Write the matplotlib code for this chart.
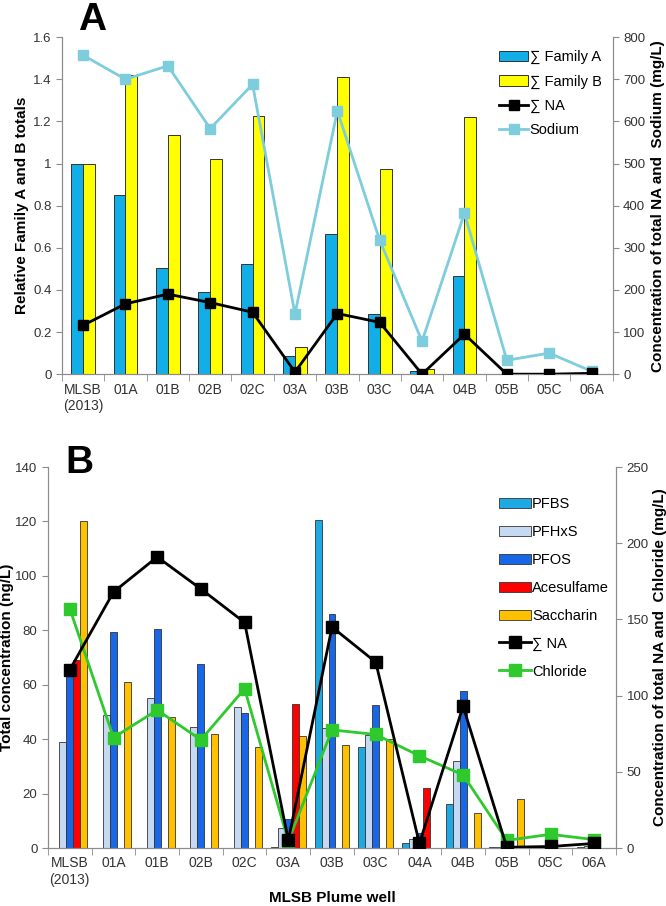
import numpy as np
import matplotlib
matplotlib.use('Agg')
import matplotlib.pyplot as plt
from matplotlib.lines import Line2D
from matplotlib.patches import Patch

plt.rcParams['font.family'] = ['Liberation Sans', 'DejaVu Sans']

# wells
wells = ['MLSB\n(2013)', '01A', '01B', '02B', '02C', '03A', '03B', '03C', '04A', '04B', '05B', '05C', '06A']

# panel A
family_a = [1.0, 0.85, 0.505, 0.39, 0.525, 0.085, 0.665, 0.285, 0.015, 0.465, 0, 0, 0]
family_b = [1.0, 1.42, 1.135, 1.02, 1.225, 0.13, 1.41, 0.975, 0.025, 1.22, 0, 0, 0]
na_a = [116, 167, 190, 170, 147, 5, 144, 123, 0, 95, 0, 0, 2]
sodium = [757, 700, 732, 583, 688, 143, 625, 318, 78, 382, 33, 50, 7]

# panel B
pfbs = [0, 0, 0, 0, 0, 0.3, 120.5, 37, 2, 16, 0.3, 0.2, 0.3]
pfhxs = [39, 49, 55, 44.5, 52, 7.5, 44, 41.5, 3.3, 32, 0.5, 0.2, 0.8]
pfos = [65, 79.5, 80.5, 67.5, 49.5, 10.5, 86, 52.5, 5.5, 57.7, 0.5, 0.2, 0.8]
acesulfame = [69, 0, 0, 0, 0, 53, 0, 0, 22, 0, 0, 0, 0]
saccharin = [120, 61, 48, 42, 37, 41, 38, 40, 0, 13, 18, 0, 0]
na_b = [117, 168, 191, 170, 148, 5, 145, 122, 3, 93, 0.5, 1, 3]
chloride = [157, 72.5, 90.5, 71, 104.5, 4.5, 77.5, 74.5, 60.5, 48, 5, 9, 5.5]

x = np.arange(len(wells))
spine_c = '#8c8c8c'
tick_c = '#333333'
edge = '#333333'

fig = plt.figure(figsize=(6.66, 9.06), dpi=100)


def style_axes(ax, ax2):
    for a in (ax, ax2):
        a.spines['top'].set_visible(False)
        for s in ('left', 'right', 'bottom'):
            a.spines[s].set_color(spine_c)
        a.tick_params(axis='y', colors=spine_c, labelcolor=tick_c, labelsize=9.5, length=4)
    ax.set_xlim(-0.5, len(wells) - 0.5)
    ax.set_xticks(x)
    ax.set_xticklabels(wells, fontsize=10, color=tick_c)
    ax.tick_params(axis='x', length=0, pad=6)
    ax.set_xticks(np.arange(-0.5, len(wells), 1), minor=True)
    ax.tick_params(axis='x', which='minor', length=5, color=spine_c)


# ---- panel A ----
ax = fig.add_axes([0.093, 0.587, 0.827, 0.372])
ax2 = ax.twinx()
w = 0.28
ax.bar(x - w / 2, family_a, w, color='#12AEE8', edgecolor=edge, linewidth=0.7, zorder=2)
ax.bar(x + w / 2, family_b, w, color='#FFFF00', edgecolor=edge, linewidth=0.7, zorder=2)
ax.set_ylim(0, 1.6)
ax.set_yticks(np.arange(0, 1.61, 0.2))
ax.set_yticklabels(['0', '0.2', '0.4', '0.6', '0.8', '1', '1.2', '1.4', '1.6'])
ax.set_ylabel('Relative Family A and B totals', fontsize=11, fontweight='bold', labelpad=3)
ax2.plot(x, sodium, color='#7DCDDD', lw=2, marker='s', ms=7, zorder=3)
ax2.plot(x, na_a, color='black', lw=2, marker='s', ms=7, zorder=4)
ax2.set_ylim(0, 800)
ax2.set_yticks(np.arange(0, 801, 100))
ax2.set_ylabel('Concentration of total NA and  Sodium (mg/L)', fontsize=11, fontweight='bold', labelpad=4)
style_axes(ax, ax2)
fig.text(78 / 666, 1 - 30 / 906, 'A', fontsize=28, fontweight='bold', va='baseline')

handles_a = [
    Patch(facecolor='#12AEE8', edgecolor=edge, linewidth=0.7, label='∑ Family A'),
    Patch(facecolor='#FFFF00', edgecolor=edge, linewidth=0.7, label='∑ Family B'),
    Line2D([], [], color='black', lw=2, marker='s', ms=7, label='∑ NA'),
    Line2D([], [], color='#7DCDDD', lw=2, marker='s', ms=7, label='Sodium'),
]
ax2.legend(handles=handles_a, loc='upper left', bbox_to_anchor=(0.77, 1.0), frameon=False,
           fontsize=10.5, handlelength=2.0, handletextpad=0.1, labelspacing=0.7)

# ---- panel B ----
bx = fig.add_axes([0.072, 0.064, 0.853, 0.4205])
bx2 = bx.twinx()
wb = 0.16
series_b = [
    (pfbs, '#1FA9E3', 'PFBS'),
    (pfhxs, '#C5DAF2', 'PFHxS'),
    (pfos, '#1767E6', 'PFOS'),
    (acesulfame, '#FF0000', 'Acesulfame'),
    (saccharin, '#FFC000', 'Saccharin'),
]
for i, (vals, col, lab) in enumerate(series_b):
    bx.bar(x + (i - 2) * wb, vals, wb, color=col, edgecolor=edge, linewidth=0.6, zorder=2)
bx.set_ylim(0, 140)
bx.set_yticks(np.arange(0, 141, 20))
bx.set_ylabel('Total concentration (ng/L)', fontsize=11, fontweight='bold', labelpad=1)
bx2.plot(x, na_b, color='black', lw=2, marker='s', ms=8, zorder=4)
bx2.plot(x, chloride, color='#2DC92D', lw=2, marker='s', ms=8, zorder=3)
bx2.set_ylim(0, 250)
bx2.set_yticks(np.arange(0, 251, 50))
bx2.set_ylabel('Concentration of total NA and  Chloride (mg/L)', fontsize=11, fontweight='bold', labelpad=3)
style_axes(bx, bx2)
fig.text(332 / 666, 3.5 / 906, 'MLSB Plume well', fontsize=11, fontweight='bold',
         ha='center', va='baseline')
fig.text(65 / 666, 1 - 473 / 906, 'B', fontsize=28, fontweight='bold', va='baseline')

handles_b = [Patch(facecolor=c, edgecolor=edge, linewidth=0.6, label=l) for _, c, l in series_b]
handles_b += [
    Line2D([], [], color='black', lw=2, marker='s', ms=8, label='∑ NA'),
    Line2D([], [], color='#2DC92D', lw=2, marker='s', ms=8, label='Chloride'),
]
bx2.legend(handles=handles_b, loc='upper left', bbox_to_anchor=(0.77, 0.955), frameon=False,
           fontsize=10.5, handlelength=2.2, handletextpad=0.1, labelspacing=0.95)

fig.savefig('out.png', dpi=100)
